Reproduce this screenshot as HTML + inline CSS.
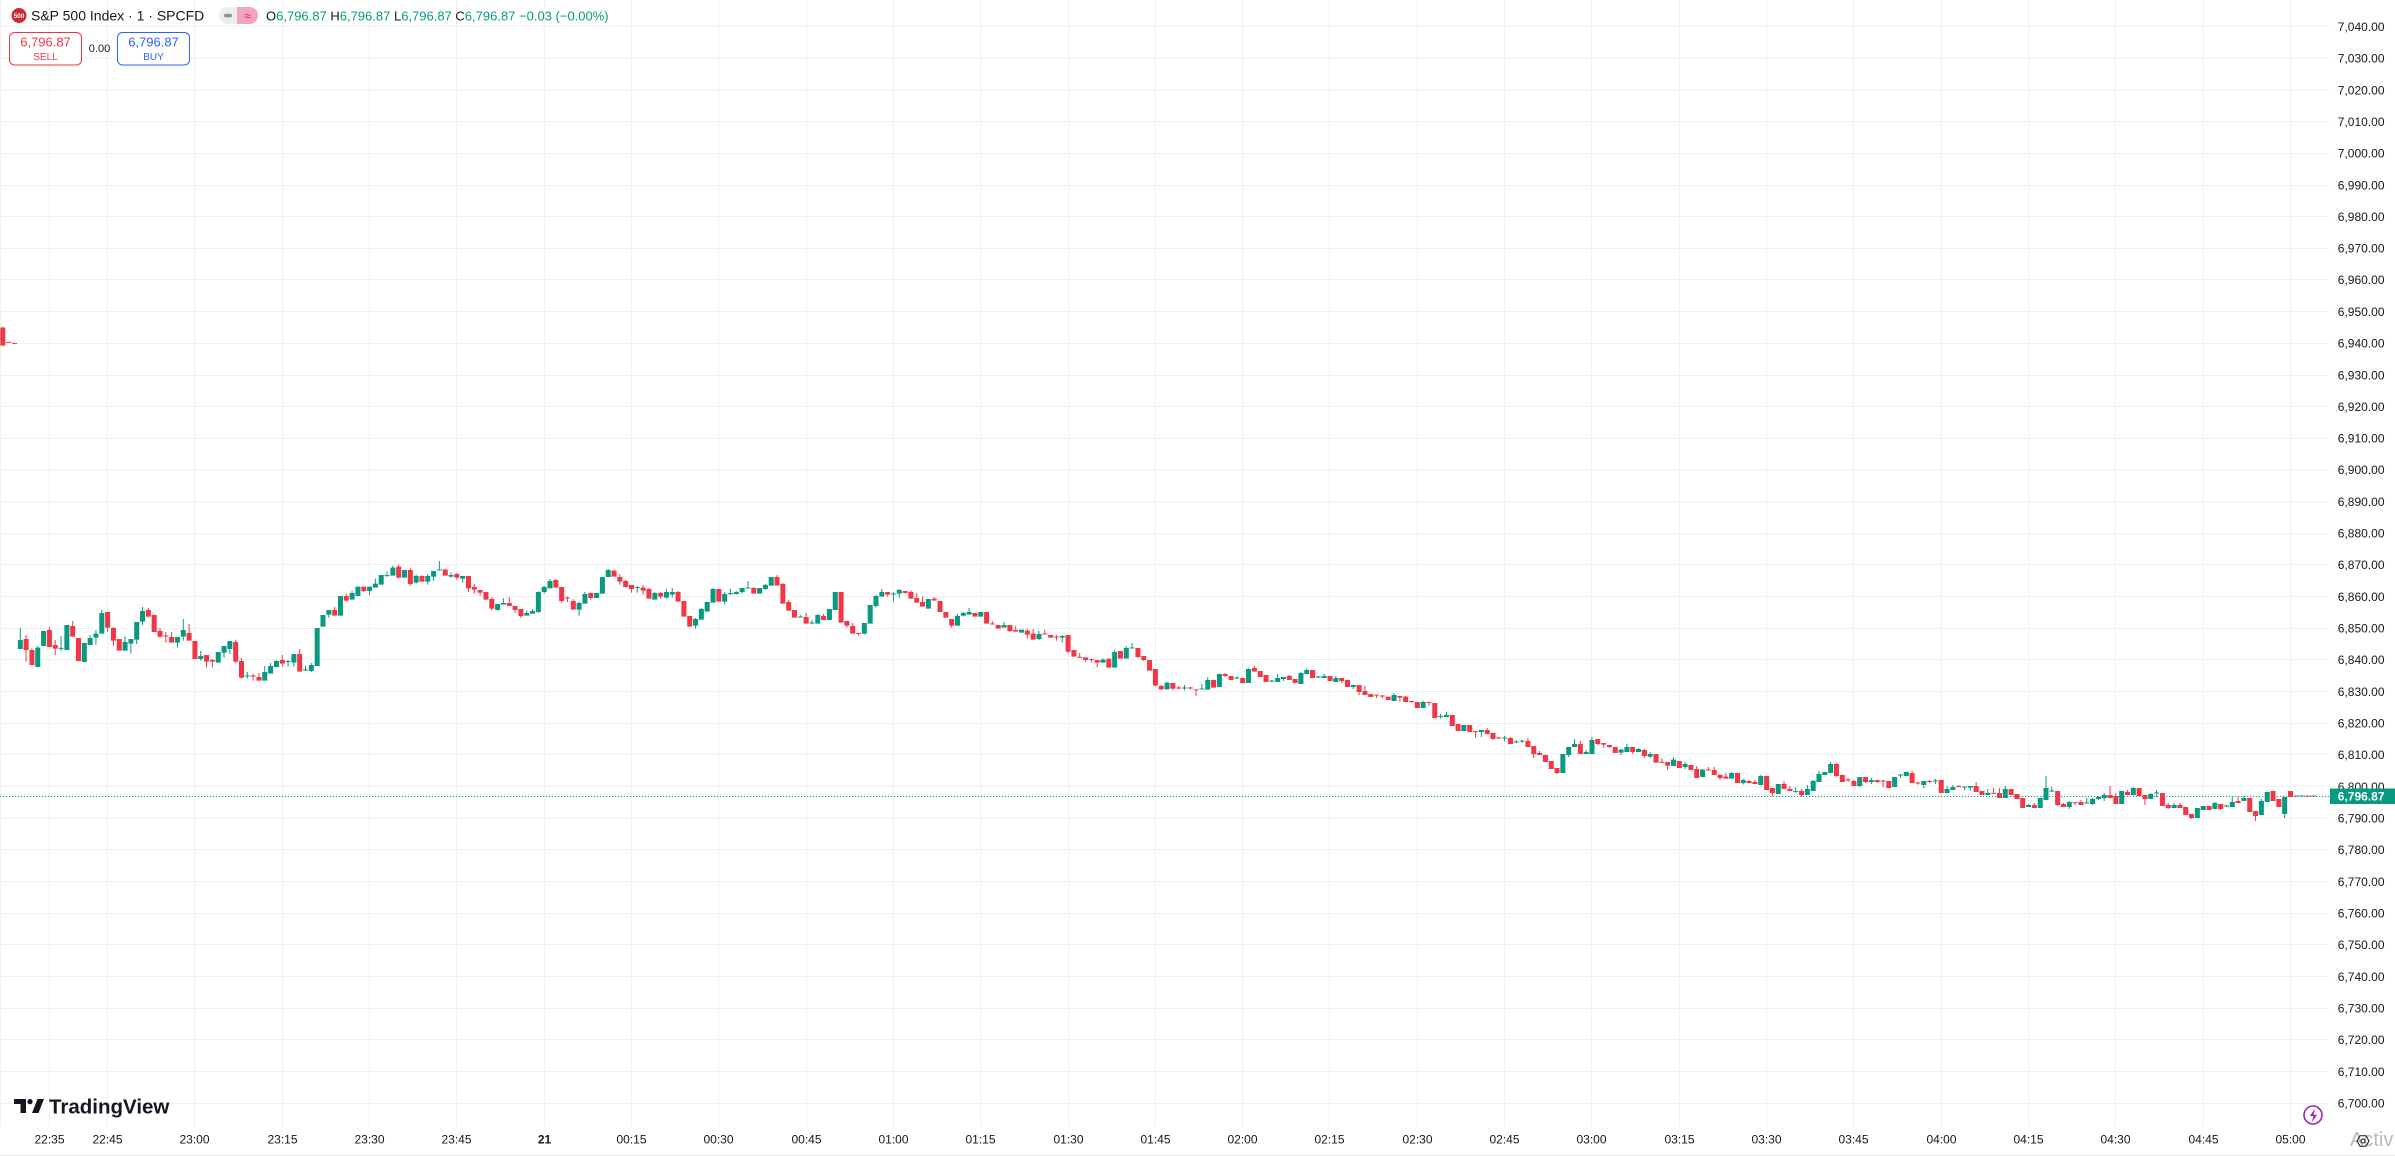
<!DOCTYPE html>
<html><head><meta charset="utf-8"><style>
html,body{margin:0;padding:0;background:#fff;overflow:hidden;width:2395px;height:1156px}
svg{display:block;font-family:"Liberation Sans",Arial,sans-serif}
</style></head><body>
<svg width="2395" height="1156" viewBox="0 0 2395 1156" xmlns="http://www.w3.org/2000/svg">
<rect width="2395" height="1156" fill="#fff"/>
<!-- grid -->
<path stroke="#eff1f5" stroke-width="1" fill="none" d="M0 26.5H2330M0 58.5H2330M0 90.5H2330M0 121.5H2330M0 153.5H2330M0 185.5H2330M0 216.5H2330M0 248.5H2330M0 279.5H2330M0 311.5H2330M0 343.5H2330M0 375.5H2330M0 406.5H2330M0 438.5H2330M0 469.5H2330M0 501.5H2330M0 533.5H2330M0 564.5H2330M0 596.5H2330M0 628.5H2330M0 659.5H2330M0 691.5H2330M0 723.5H2330M0 754.5H2330M0 786.5H2330M0 818.5H2330M0 849.5H2330M0 881.5H2330M0 913.5H2330M0 944.5H2330M0 976.5H2330M0 1008.5H2330M0 1039.5H2330M0 1071.5H2330M0 1103.5H2330
M0.5 0V1127M49.5 0V1127M107.5 0V1127M194.5 0V1127M282.5 0V1127M369.5 0V1127M456.5 0V1127M544.5 0V1127M631.5 0V1127M718.5 0V1127M806.5 0V1127M893.5 0V1127M980.5 0V1127M1068.5 0V1127M1155.5 0V1127M1242.5 0V1127M1329.5 0V1127M1417.5 0V1127M1504.5 0V1127M1591.5 0V1127M1679.5 0V1127M1766.5 0V1127M1853.5 0V1127M1941.5 0V1127M2028.5 0V1127M2115.5 0V1127M2203.5 0V1127M2290.5 0V1127"/>
<path stroke="#e6e8ec" d="M0 1155.5H2395"/>
<!-- current price dotted line -->
<path stroke="#089981" stroke-width="1" stroke-dasharray="1.2 1.8" d="M0 796.5H2330"/>
<!-- candles -->
<g transform="translate(17.8 0) scale(5.821 1)">
<g transform="translate(0 300) scale(1 .333333)">
<path fill="#f23645" d="M-3 0V83h.34V80h.17V83h.35V137h-.86zm1 0V125.5h.86V128.5h-.86zm1 0V128.5h.86V131.5h-.86zm2 0V1017h.34V1005h.17V1017h.35V1050h-.35V1085h-.17V1050h-.34zm1 0V1050h.34V1045h.17V1050h.35V1095h-.86zm3 0V990h.34V982h.17V990h.35V1041h-.86zm1 0V1035h.34V1020h.17V1035h.35V1046h-.35V1065h-.17V1046h-.34zm3 0V978h.34V963h.17V978h.35V1010h-.86zm1 0V1014h.86V1083h-.86zm5 0V936h.86V983h-.35V995h-.17V983h-.34zm1 0V984h.34V981h.17V984h.35V1022h-.35V1037h-.17V1022h-.34zm1 0V1017h.86V1052h-.86zm5 0V930h.34V924h.17V930h.35V950h-.35V953h-.17V950h-.34zm1 0V945h.86V996h-.86zm1 0V993h.34V984h.17V993h.35V1010h-.35V1014h-.17V1010h-.34zm1 0V1006.5h.34V996h.17V1006.5h.35V1009.5h-.35V1028h-.17V1009.5h-.34zm1 0V1011h.34V996h.17V1011h.35V1028h-.86zm3 0V999h.34V972h.17V999h.35V1022h-.86zm1 0V1023h.86V1077h-.86zm2 0V1065h.86V1085h-.35V1103h-.17V1085h-.34zm1 0V1080h.34V1077h.17V1080h.35V1085h-.35V1103h-.17V1085h-.34zm4 0V1026h.34V1020h.17V1026h.35V1085h-.35V1090h-.17V1085h-.34zm1 0V1083h.34V1074h.17V1083h.35V1133h-.35V1136h-.17V1133h-.34zm2 0V1126.5h.34V1122h.17V1126.5h.35V1129.5h-.35V1142h-.17V1129.5h-.34zm1 0V1131h.34V1119h.17V1131h.35V1142h-.86zm4 0V1080h.34V1065h.17V1080h.35V1091h-.35V1100h-.17V1091h-.34zm3 0V1062h.34V1047h.17V1062h.35V1115h-.86zm6 0V930h.34V921h.17V930h.35V947h-.86zm2 0V888h.34V882h.17V888h.35V902h-.35V905h-.17V902h-.34zm3 0V860h.86V873h-.35V876h-.17V873h-.34zm6 0V800h.34V794h.17V800h.35V833h-.35V836h-.17V833h-.34z"/>
<path fill="#089981" d="M0 0V1020h.34V984h.17V1020h.35V1047h-.86zm3 0V1043h.34V1038h.17V1043h.35V1101h-.86zm1 0V993h.86V1038h-.86zm3 0V1043.5h.34V1008h.17V1043.5h.35V1046.5h-.35V1053h-.17V1046.5h-.34zm1 0V975h.86V1050h-.86zm3 0V1029h.86V1086h-.86zm1 0V1014h.34V1005h.17V1014h.35V1035h-.86zm1 0V1001h.34V990h.17V1001h.35V1013h-.35V1034h-.17V1013h-.34zm1 0V939h.34V930h.17V939h.35V1001h-.86zm4 0V1026h.34V1008h.17V1026h.35V1052h-.86zm1 0V1017h.86V1031h-.35V1061h-.17V1031h-.34zm1 0V966h.86V1019h-.35V1032h-.17V1019h-.34zm1 0V933h.34V921h.17V933h.35V965h-.35V975h-.17V965h-.34zm6 0V1011h.86V1028h-.35V1043h-.17V1028h-.34zm1 0V990h.34V957h.17V990h.35V1010h-.35V1022h-.17V1010h-.34zm3 0V1068h.34V1053h.17V1068h.35V1077h-.35V1082h-.17V1077h-.34zm3 0V1056h.86V1088h-.86zm1 0V1038h.86V1058h-.35V1073h-.17V1058h-.34zm1 0V1023h.86V1047h-.35V1062h-.17V1047h-.34zm3 0V1126.5h.34V1116h.17V1126.5h.35V1129.5h-.35V1136h-.17V1129.5h-.34zm3 0V1116h.34V1098h.17V1116h.35V1142h-.86zm1 0V1098h.34V1089h.17V1098h.35V1121h-.86zm1 0V1083h.34V1080h.17V1083h.35V1101h-.86zm2 0V1083.5h.34V1080h.17V1083.5h.35V1086.5h-.35V1100h-.17V1086.5h-.34zm1 0V1062h.86V1088h-.35V1100h-.17V1088h-.34zm2 0V1108.5h.34V1098h.17V1108.5h.35V1111.5h-.35V1113h-.17V1111.5h-.34zm1 0V1095h.34V1089h.17V1095h.35V1113h-.35V1116h-.17V1113h-.34zm1 0V984h.86V1098h-.86zm1 0V945h.86V980h-.86zm1 0V930h.86V944h-.35V953h-.17V944h-.34zm2 0V888h.86V947h-.86zm2 0V879h.34V873h.17V879h.35V899h-.86zm1 0V860h.86V888h-.86zm2 0V860h.86V873h-.35V885h-.17V873h-.34zm1 0V851h.34V836h.17V851h.35V863h-.86zm1 0V825h.86V854h-.86zm1 0V825.5h.34V815h.17V825.5h.35V828.5h-.35V830h-.17V828.5h-.34zm1 0V803h.34V797h.17V803h.35V827h-.86z"/>
</g>
<g transform="translate(0 545) scale(1 .333333)">
<path fill="#f23645" d="M67 0V75h.34V70h.17V75h.35V117h-.35V122h-.17V117h-.34zm2 0V93h.34V90h.17V93h.35V110h-.86zm4 0V74h.34V71h.17V74h.35V92h-.86zm2 0V87h.34V84h.17V87h.35V98h-.35V104h-.17V98h-.34zm2 0V93h.86V130h-.35V141h-.17V130h-.34zm1 0V126h.34V117h.17V126h.35V134h-.35V146h-.17V134h-.34zm1 0V135h.86V143h-.35V152h-.17V143h-.34zm1 0V141h.86V164h-.86zm1 0V162h.34V157h.17V162h.35V191h-.35V197h-.17V191h-.34zm3 0V174h.34V156h.17V174h.35V183h-.86zm1 0V183h.86V195h-.35V204h-.17V195h-.34zm1 0V192h.86V213h-.35V219h-.17V213h-.34zm6 0V105h.34V102h.17V105h.35V128h-.86zm1 0V126h.86V168h-.35V174h-.17V168h-.34zm1 0V157.5h.34V155h.17V157.5h.35V160.5h-.35V171h-.17V160.5h-.34zm1 0V168h.34V162h.17V168h.35V194h-.86zm3 0V144h.86V159h-.35V164h-.17V159h-.34zm4 0V77h.34V74h.17V77h.35V95h-.86zm1 0V96h.34V87h.17V96h.35V110h-.35V119h-.17V110h-.34zm1 0V108h.34V105h.17V108h.35V126h-.35V128h-.17V126h-.34zm1 0V120h.86V132h-.35V143h-.17V132h-.34zm2 0V128h.34V120h.17V128h.35V137h-.35V149h-.17V137h-.34zm1 0V132h.34V129h.17V132h.35V161h-.86zm2 0V144h.34V141h.17V144h.35V155h-.35V161h-.17V155h-.34zm3 0V141h.34V138h.17V141h.35V170h-.86zm1 0V168h.86V215h-.86zm1 0V213h.86V245h-.86zm5 0V132h.86V170h-.86zm6 0V129h.34V126h.17V129h.35V146h-.86zm4 0V96h.34V90h.17V96h.35V122h-.86zm1 0V117h.34V114h.17V117h.35V176h-.86zm1 0V171h.34V165h.17V171h.35V197h-.86zm1 0V195h.86V218h-.86z"/>
<path fill="#089981" d="M66 0V75h.86V98h-.86zm2 0V93h.34V88h.17V93h.35V113h-.35V116h-.17V113h-.34zm2 0V93h.34V87h.17V93h.35V110h-.35V119h-.17V110h-.34zm1 0V78h.86V95h-.35V107h-.17V95h-.34zm1 0V73.5h.34V48h.17V73.5h.35V76.5h-.86zm2 0V90h.34V82h.17V90h.35V95h-.35V98h-.17V95h-.34zm2 0V93h.86V101h-.35V113h-.17V101h-.34zm6 0V177h.86V195h-.35V197h-.17V195h-.34zm1 0V174h.34V159h.17V174h.35V179h-.86zm4 0V204h.34V197h.17V204h.35V212h-.86zm1 0V198h.34V192h.17V198h.35V206h-.86zm1 0V141h.34V139h.17V141h.35V201h-.35V204h-.17V201h-.34zm1 0V126h.34V123h.17V126h.35V141h-.35V146h-.17V141h-.34zm1 0V108h.34V102h.17V108h.35V130h-.86zm5 0V174h.34V170h.17V174h.35V194h-.35V212h-.17V194h-.34zm1 0V147h.34V141h.17V147h.35V176h-.86zm2 0V144h.86V159h-.86zm1 0V96h.86V146h-.86zm1 0V75h.34V72h.17V75h.35V96h-.86zm5 0V126.5h.34V123h.17V126.5h.35V129.5h-.35V143h-.17V129.5h-.34zm3 0V144h.34V141h.17V144h.35V164h-.86zm2 0V141h.34V132h.17V141h.35V158h-.35V161h-.17V158h-.34zm1 0V141h.34V129h.17V141h.35V149h-.35V158h-.17V149h-.34zm4 0V222h.34V219h.17V222h.35V242h-.35V251h-.17V242h-.34zm1 0V192h.34V189h.17V192h.35V224h-.86zm1 0V171h.86V200h-.86zm1 0V132h.34V129h.17V132h.35V173h-.86zm2 0V147h.34V141h.17V147h.35V170h-.35V179h-.17V170h-.34zm1 0V144.5h.34V132h.17V144.5h.35V147.5h-.35V150h-.17V147.5h-.34zm1 0V141h.34V138h.17V141h.35V147h-.35V149h-.17V147h-.34zm1 0V129h.86V141h-.35V146h-.17V141h-.34zm1 0V127.5h.34V108h.17V127.5h.35V130.5h-.86zm2 0V129h.86V146h-.86zm1 0V120h.34V117h.17V120h.35V132h-.35V135h-.17V132h-.34zm1 0V96h.86V122h-.86zm5 0V214.5h.34V210h.17V214.5h.35V217.5h-.86z"/>
</g>
<g transform="translate(0 570) scale(1 .333333)">
<path fill="#f23645" d="M135 0V141h.34V129h.17V141h.35V161h-.86zm3 0V138h.34V132h.17V138h.35V150h-.86zm3 0V66h.86V158h-.86zm1 0V153h.86V167h-.35V173h-.17V167h-.34zm1 0V168h.34V159h.17V168h.35V191h-.86zm1 0V188.5h.86V191.5h-.35V197h-.17V191.5h-.34zm5 0V66h.86V74h-.35V80h-.17V74h-.34zm3 0V63h.86V69h-.35V71h-.17V69h-.34zm1 0V66h.34V61h.17V66h.35V86h-.86zm1 0V84h.34V69h.17V84h.35V98h-.86zm1 0V96h.34V80h.17V96h.35V110h-.86zm2 0V86h.34V81h.17V86h.35V92h-.86zm1 0V93h.86V126h-.86zm1 0V126h.86V143h-.86zm1 0V147h.86V167h-.35V173h-.17V167h-.34zm4 0V129h.86V140h-.86zm2 0V126h.86V161h-.86zm1 0V160.5h.34V153h.17V160.5h.35V163.5h-.86zm1 0V165h.86V176h-.86zm2 0V165h.86V183h-.35V186h-.17V183h-.34zm1 0V180h.34V168h.17V180h.35V185h-.86zm2 0V182h.34V177h.17V182h.35V194h-.35V206h-.17V194h-.34zm1 0V191h.34V177h.17V191h.35V209h-.86zm2 0V190.5h.34V179h.17V190.5h.35V193.5h-.86zm1 0V195h.86V203h-.86zm1 0V199.5h.34V195h.17V199.5h.35V202.5h-.35V212h-.17V202.5h-.34zm2 0V195h.86V245h-.35V250h-.17V245h-.34zm1 0V240h.86V260h-.86zm1 0V260.5h.34V249h.17V260.5h.35V263.5h-.86zm1 0V262h.86V270h-.35V275h-.17V270h-.34zm1 0V267.5h.34V265h.17V267.5h.35V270.5h-.35V278h-.17V270.5h-.34zm1 0V270h.86V278h-.35V291h-.17V278h-.34zm2 0V266h.86V293h-.86zm2 0V243h.86V266h-.86zm3 0V234h.86V261h-.35V263h-.17V261h-.34zm1 0V258h.86V270h-.35V273h-.17V270h-.34zm1 0V270h.86V302h-.86zm1 0V297h.86V347h-.86zm1 0V348h.34V345h.17V348h.35V358h-.35V360h-.17V358h-.34zm2 0V339h.86V356h-.35V362h-.17V356h-.34zm1 0V352.5h.34V348h.17V352.5h.35V355.5h-.35V358h-.17V355.5h-.34zm2 0V352.5h.34V350h.17V352.5h.35V355.5h-.35V358h-.17V355.5h-.34zm1 0V358h.86V361h-.35V377h-.17V361h-.34z"/>
<path fill="#089981" d="M136 0V157.5h.34V150h.17V157.5h.35V160.5h-.35V163h-.17V160.5h-.34zm1 0V135h.34V132h.17V135h.35V161h-.86zm2 0V117h.86V150h-.86zm1 0V66h.86V120h-.86zm5 0V159h.86V191h-.35V194h-.17V191h-.34zm1 0V105h.86V161h-.86zm1 0V78h.34V75h.17V78h.35V108h-.35V113h-.17V108h-.34zm1 0V66h.34V57h.17V66h.35V80h-.86zm2 0V70.5h.34V66h.17V70.5h.35V73.5h-.35V95h-.17V73.5h-.34zm1 0V60h.34V57h.17V60h.35V71h-.35V83h-.17V71h-.34zm5 0V87h.86V116h-.86zm5 0V138h.34V132h.17V138h.35V167h-.86zm1 0V129h.34V126h.17V129h.35V137h-.35V140h-.17V137h-.34zm1 0V126h.34V114h.17V126h.35V134h-.86zm2 0V126h.86V140h-.86zm4 0V165h.34V156h.17V165h.35V173h-.86zm3 0V179h.86V188h-.86zm3 0V192h.34V183h.17V192h.35V207h-.35V210h-.17V207h-.34zm4 0V198h.34V195h.17V198h.35V203h-.35V218h-.17V203h-.34zm7 0V269h.34V265h.17V269h.35V278h-.86zm2 0V246h.34V240h.17V246h.35V293h-.86zm2 0V234h.34V229h.17V234h.35V266h-.86zm1 0V232.5h.34V219h.17V232.5h.35V235.5h-.86zm6 0V338h.34V336h.17V338h.35V358h-.86zm3 0V352.5h.34V345h.17V352.5h.35V355.5h-.35V361h-.17V355.5h-.34zm3 0V355.5h.34V342h.17V355.5h.35V358.5h-.86z"/>
</g>
<g transform="translate(0 655) scale(1 .333333)">
<path fill="#f23645" d="M205 0V75h.86V98h-.86zm2 0V57h.34V54h.17V57h.35V63h-.35V66h-.17V63h-.34zm1 0V63h.86V75h-.86zm2 0V69h.86V84h-.86zm2 0V39h.34V33h.17V39h.35V50h-.86zm1 0V48h.86V66h-.86zm1 0V60h.86V81h-.86zm4 0V63h.34V60h.17V63h.35V75h-.86zm1 0V72h.86V84h-.86zm3 0V45h.86V69h-.86zm3 0V63h.86V78h-.86zm2 0V69h.86V78h-.35V84h-.17V78h-.34zm1 0V75h.86V96h-.86zm2 0V90h.86V111h-.35V120h-.17V111h-.34zm1 0V108h.34V93h.17V108h.35V120h-.86zm1 0V117h.86V126h-.86zm1 0V119h.86V122h-.35V129h-.17V122h-.34zm1 0V121.5h.34V120h.17V121.5h.35V124.5h-.35V131h-.17V124.5h-.34zm1 0V125h.86V135h-.86zm2 0V123h.86V128h-.35V140h-.17V128h-.34zm1 0V125h.34V123h.17V125h.35V141h-.86zm1 0V138.5h.34V138h.17V138.5h.35V141.5h-.35V143h-.17V141.5h-.34zm1 0V141h.86V159h-.86zm2 0V140.5h.86V143.5h-.35V152h-.17V143.5h-.34zm1 0V144h.86V189h-.86zm3 0V180h.86V213h-.86zm1 0V207h.86V228h-.86zm2 0V210h.86V231h-.86zm1 0V228h.86V231h-.35V248h-.17V231h-.34zm2 0V225h.34V219h.17V225h.35V237h-.86zm1 0V234h.86V252h-.35V255h-.17V252h-.34zm1 0V247.5h.34V246h.17V247.5h.35V250.5h-.35V252h-.17V250.5h-.34zm2 0V249h.34V246h.17V249h.35V267h-.86zm3 0V258h.34V249h.17V258h.35V276h-.86zm1 0V273h.86V297h-.35V309h-.17V297h-.34zm1 0V294h.34V288h.17V294h.35V300h-.86zm1 0V300h.86V321h-.86zm1 0V318h.86V342h-.86zm1 0V339h.86V354h-.35V357h-.17V354h-.34zm4 0V267h.34V258h.17V267h.35V297h-.86zm3 0V252h.86V267h-.35V270h-.17V267h-.34z"/>
<path fill="#089981" d="M204 0V75h.34V66h.17V75h.35V104h-.86zm2 0V57h.86V96h-.86zm3 0V67.5h.34V63h.17V67.5h.35V70.5h-.35V72h-.17V70.5h-.34zm2 0V42h.34V40h.17V42h.35V84h-.86zm4 0V76.5h.34V75h.17V76.5h.35V79.5h-.35V81h-.17V79.5h-.34zm1 0V69h.34V57h.17V69h.35V81h-.86zm1 0V66h.86V72h-.35V78h-.17V72h-.34zm3 0V54h.34V51h.17V54h.35V87h-.86zm1 0V45h.34V42h.17V45h.35V57h-.86zm2 0V64.5h.34V63h.17V64.5h.35V67.5h-.35V69h-.17V67.5h-.34zm1 0V63h.34V57h.17V63h.35V69h-.86zm2 0V69h.34V63h.17V69h.35V81h-.86zm3 0V90h.86V96h-.35V102h-.17V96h-.34zm7 0V120h.34V114h.17V120h.35V138h-.86zm5 0V141h.34V138h.17V141h.35V159h-.86zm3 0V182.5h.34V177h.17V182.5h.35V185.5h-.35V191h-.17V185.5h-.34zm1 0V180h.34V171h.17V180h.35V186h-.86zm3 0V210h.86V228h-.86zm3 0V225h.86V231h-.35V246h-.17V231h-.34zm4 0V247.5h.34V243h.17V247.5h.35V250.5h-.35V259h-.17V250.5h-.34zm2 0V259.5h.34V255h.17V259.5h.35V262.5h-.35V264h-.17V262.5h-.34zm1 0V256.5h.34V255h.17V256.5h.35V259.5h-.35V264h-.17V259.5h-.34zm7 0V297h.86V354h-.86zm1 0V276h.86V300h-.35V306h-.17V300h-.34zm1 0V267h.34V252h.17V267h.35V276h-.86zm2 0V291h.34V285h.17V291h.35V297h-.86zm1 0V255h.34V246h.17V255h.35V297h-.86z"/>
</g>
<g transform="translate(0 725) scale(1 .333333)">
<path fill="#f23645" d="M272 0V54h.86V59h-.35V68h-.17V59h-.34zm1 0V60h.86V66h-.35V69h-.17V66h-.34zm1 0V66h.86V84h-.86zm3 0V66h.86V81h-.35V87h-.17V81h-.34zm2 0V75h.34V72h.17V75h.35V93h-.35V99h-.17V93h-.34zm2 0V87h.86V113h-.86zm1 0V110.5h.34V99h.17V110.5h.35V113.5h-.86zm1 0V111h.86V122h-.35V135h-.17V122h-.34zm2 0V108h.86V129h-.86zm2 0V120h.86V135h-.86zm1 0V132h.34V123h.17V132h.35V159h-.86zm2 0V133.5h.34V126h.17V133.5h.35V136.5h-.86zm1 0V135h.34V126h.17V135h.35V150h-.86zm1 0V150h.34V147h.17V150h.35V159h-.35V165h-.17V159h-.34zm1 0V155h.34V144h.17V155h.35V161h-.86zm2 0V144h.86V174h-.86zm2 0V168h.34V165h.17V168h.35V174h-.86zm1 0V171h.34V165h.17V171h.35V177h-.86zm2 0V153h.86V195h-.86zm1 0V189h.86V204h-.35V214h-.17V204h-.34zm2 0V177h.34V168h.17V177h.35V192h-.86zm1 0V192h.34V183h.17V192h.35V198h-.86zm2 0V198h.34V192h.17V198h.35V210h-.35V214h-.17V210h-.34zm6 0V117h.34V114h.17V117h.35V153h-.35V156h-.17V153h-.34zm1 0V150h.86V171h-.86zm1 0V163.5h.34V159h.17V163.5h.35V166.5h-.35V171h-.17V166.5h-.34zm1 0V168h.34V165h.17V168h.35V183h-.86zm2 0V156h.86V171h-.35V174h-.17V171h-.34zm2 0V165h.86V171h-.35V174h-.17V171h-.34zm1 0V166.5h.34V165h.17V166.5h.35V169.5h-.35V186h-.17V169.5h-.34zm1 0V168h.86V189h-.86zm4 0V144h.34V138h.17V144h.35V174h-.86zm1 0V172.5h.34V171h.17V172.5h.35V175.5h-.35V179h-.17V175.5h-.34zm2 0V168h.34V165h.17V168h.35V171h-.35V174h-.17V171h-.34zm2 0V165h.86V204h-.86zm3 0V183h.34V180h.17V183h.35V186h-.86zm3 0V183h.34V171h.17V183h.35V201h-.86zm1 0V198h.86V210h-.86zm2 0V203.5h.34V189h.17V203.5h.35V206.5h-.86zm1 0V204h.34V189h.17V204h.35V219h-.86z"/>
<path fill="#089981" d="M275 0V74h.34V72h.17V74h.35V83h-.35V90h-.17V83h-.34zm1 0V66h.34V57h.17V66h.35V81h-.86zm2 0V72h.34V69h.17V72h.35V81h-.86zm2 0V87h.34V81h.17V87h.35V95h-.35V99h-.17V95h-.34zm4 0V104h.34V96h.17V104h.35V123h-.86zm2 0V117h.34V111h.17V117h.35V126h-.35V132h-.17V126h-.34zm3 0V134h.34V132h.17V134h.35V156h-.86zm5 0V144h.34V141h.17V144h.35V161h-.86zm2 0V165h.34V162h.17V165h.35V174h-.35V178h-.17V174h-.34zm3 0V153h.34V150h.17V153h.35V180h-.86zm3 0V177h.86V207h-.86zm3 0V198.5h.34V186h.17V198.5h.35V201.5h-.35V203h-.17V201.5h-.34zm2 0V192h.34V180h.17V192h.35V210h-.86zm1 0V168h.34V165h.17V168h.35V198h-.86zm1 0V147h.34V138h.17V147h.35V171h-.86zm1 0V141h.86V150h-.86zm1 0V117h.34V111h.17V117h.35V144h-.86zm5 0V156h.86V183h-.35V186h-.17V183h-.34zm2 0V165h.34V159h.17V165h.35V171h-.35V177h-.17V171h-.34zm4 0V156h.86V186h-.86zm1 0V148.5h.34V147h.17V148.5h.35V151.5h-.35V159h-.17V151.5h-.34zm1 0V141h.86V153h-.86zm3 0V168h.86V180h-.35V189h-.17V180h-.34zm2 0V166.5h.34V162h.17V166.5h.35V169.5h-.35V177h-.17V169.5h-.34zm2 0V192h.34V183h.17V192h.35V204h-.86zm1 0V186h.34V180h.17V186h.35V195h-.86zm2 0V184.5h.86V187.5h-.35V195h-.17V187.5h-.34zm1 0V183h.86V188h-.35V197h-.17V188h-.34zm3 0V204h.34V192h.17V204h.35V210h-.86z"/>
</g>
<g transform="translate(0 760) scale(1 .333333)">
<path fill="#f23645" d="M342 0V87h.86V105h-.86zm1 0V102h.86V117h-.86zm1 0V114h.86V144h-.86zm2 0V135h.34V129h.17V135h.35V144h-.86zm4 0V93h.86V135h-.35V138h-.17V135h-.34zm1 0V132h.34V129h.17V132h.35V141h-.86zm2 0V126.5h.86V129.5h-.35V135h-.17V129.5h-.34zm1 0V126h.34V120h.17V126h.35V135h-.86zm5 0V105h.34V78h.17V105h.35V114h-.86zm1 0V108h.34V99h.17V108h.35V132h-.86zm2 0V96h.34V90h.17V96h.35V105h-.86zm2 0V84h.86V108h-.86zm1 0V105h.86V117h-.35V135h-.17V117h-.34zm3 0V99h.86V138h-.86zm1 0V135h.34V129h.17V135h.35V144h-.35V147h-.17V144h-.34zm2 0V135h.34V129h.17V135h.35V144h-.86zm1 0V141h.86V165h-.86zm1 0V162h.86V174h-.35V177h-.17V174h-.34zm3 0V138h.86V150h-.86zm2 0V132h.86V147h-.35V150h-.17V147h-.34zm3 0V123h.34V111h.17V123h.35V129h-.86zm2 0V114h.86V156h-.86zm1 0V153h.86V168h-.35V183h-.17V168h-.34zm3 0V93h.86V123h-.86zm1 0V117h.86V141h-.86zm2 0V93h.86V111h-.86zm3 0V106.5h.86V109.5h-.86z"/>
<path fill="#089981" d="M341 0V87h.34V78h.17V87h.35V114h-.86zm4 0V135h.34V132h.17V135h.35V141h-.86zm2 0V114h.86V144h-.86zm1 0V84h.34V48h.17V84h.35V120h-.86zm1 0V91.5h.34V81h.17V91.5h.35V94.5h-.35V96h-.17V94.5h-.34zm3 0V126h.34V123h.17V126h.35V141h-.35V147h-.17V141h-.34zm3 0V127.5h.34V114h.17V127.5h.35V130.5h-.86zm1 0V117h.34V114h.17V117h.35V132h-.35V135h-.17V132h-.34zm1 0V111h.34V108h.17V111h.35V117h-.35V120h-.17V117h-.34zm1 0V105h.34V99h.17V105h.35V114h-.35V123h-.17V114h-.34zm3 0V93h.86V132h-.86zm2 0V84h.34V81h.17V84h.35V105h-.86zm3 0V102h.34V99h.17V102h.35V117h-.86zm1 0V97.5h.34V90h.17V97.5h.35V100.5h-.35V111h-.17V100.5h-.34zm3 0V135h.34V129h.17V135h.35V144h-.86zm4 0V144h.86V174h-.86zm1 0V138h.86V150h-.86zm2 0V129h.34V126h.17V129h.35V147h-.86zm2 0V136.5h.34V135h.17V136.5h.35V139.5h-.35V141h-.17V139.5h-.34zm1 0V126h.34V111h.17V126h.35V141h-.86zm2 0V114h.34V108h.17V114h.35V123h-.86zm3 0V123h.34V117h.17V123h.35V165h-.86zm1 0V96h.86V126h-.86zm3 0V111h.86V162h-.35V174h-.17V162h-.34zm2 0V106.5h.86V109.5h-.86zm1 0V106.5h.86V109.5h-.86zm2 0V106.5h.86V109.5h-.86z"/>
</g>
</g>
<!-- price axis labels -->
<g font-size="12" fill="#131722" text-anchor="end">
<text x="2384.5" y="30.9">7,040.00</text><text x="2384.5" y="62.6">7,030.00</text><text x="2384.5" y="94.3">7,020.00</text><text x="2384.5" y="125.9">7,010.00</text><text x="2384.5" y="157.6">7,000.00</text><text x="2384.5" y="189.3">6,990.00</text><text x="2384.5" y="220.9">6,980.00</text><text x="2384.5" y="252.6">6,970.00</text><text x="2384.5" y="284.2">6,960.00</text><text x="2384.5" y="315.9">6,950.00</text><text x="2384.5" y="347.6">6,940.00</text><text x="2384.5" y="379.3">6,930.00</text><text x="2384.5" y="410.9">6,920.00</text><text x="2384.5" y="442.6">6,910.00</text><text x="2384.5" y="474.2">6,900.00</text><text x="2384.5" y="505.9">6,890.00</text><text x="2384.5" y="537.6">6,880.00</text><text x="2384.5" y="569.2">6,870.00</text><text x="2384.5" y="600.9">6,860.00</text><text x="2384.5" y="632.6">6,850.00</text><text x="2384.5" y="664.2">6,840.00</text><text x="2384.5" y="695.9">6,830.00</text><text x="2384.5" y="727.6">6,820.00</text><text x="2384.5" y="759.2">6,810.00</text><text x="2384.5" y="790.9">6,800.00</text><text x="2384.5" y="822.6">6,790.00</text><text x="2384.5" y="854.2">6,780.00</text><text x="2384.5" y="885.9">6,770.00</text><text x="2384.5" y="917.5">6,760.00</text><text x="2384.5" y="949.2">6,750.00</text><text x="2384.5" y="980.9">6,740.00</text><text x="2384.5" y="1012.5">6,730.00</text><text x="2384.5" y="1044.2">6,720.00</text><text x="2384.5" y="1075.9">6,710.00</text><text x="2384.5" y="1107.5">6,700.00</text>
</g>
<rect x="2330" y="788.5" width="65" height="15.5" fill="#089981"/>
<text x="2384.5" y="800.6" font-size="12" fill="#fff" text-anchor="end" font-weight="bold">6,796.87</text>
<!-- time axis labels -->
<g font-size="12" fill="#131722" text-anchor="middle">
<text x="49.5" y="1143.5">22:35</text><text x="107.5" y="1143.5">22:45</text><text x="194.5" y="1143.5">23:00</text><text x="282.5" y="1143.5">23:15</text><text x="369.5" y="1143.5">23:30</text><text x="456.5" y="1143.5">23:45</text><text x="544.5" y="1143.5" font-weight="bold">21</text><text x="631.5" y="1143.5">00:15</text><text x="718.5" y="1143.5">00:30</text><text x="806.5" y="1143.5">00:45</text><text x="893.5" y="1143.5">01:00</text><text x="980.5" y="1143.5">01:15</text><text x="1068.5" y="1143.5">01:30</text><text x="1155.5" y="1143.5">01:45</text><text x="1242.5" y="1143.5">02:00</text><text x="1329.5" y="1143.5">02:15</text><text x="1417.5" y="1143.5">02:30</text><text x="1504.5" y="1143.5">02:45</text><text x="1591.5" y="1143.5">03:00</text><text x="1679.5" y="1143.5">03:15</text><text x="1766.5" y="1143.5">03:30</text><text x="1853.5" y="1143.5">03:45</text><text x="1941.5" y="1143.5">04:00</text><text x="2028.5" y="1143.5">04:15</text><text x="2115.5" y="1143.5">04:30</text><text x="2203.5" y="1143.5">04:45</text><text x="2290.5" y="1143.5">05:00</text>
</g>
<!-- watermark / corner -->
<text x="2350" y="1146" font-size="20" fill="#b9b9b9">Activ</text>
<path d="M2357 1141l3-5.2h6l3 5.2-3 5.2h-6z" fill="none" stroke="#131722" stroke-width="1"/>
<circle cx="2363" cy="1141" r="2" fill="none" stroke="#131722" stroke-width="1"/>
<circle cx="2313" cy="1115" r="9" fill="none" stroke="#9c27b0" stroke-width="1.6"/>
<path d="M2315 1108.5l-5.2 7.6h3.6l-1.6 6.4 5.4-7.8h-3.6z" fill="#9c27b0"/>
<!-- TradingView logo -->
<g fill="#131722">
<path d="M14 1099h12v14h-5.5v-9H14z"/>
<circle cx="30" cy="1101.6" r="2.6"/>
<path d="M37.5 1099h6.5l-5.5 14h-6.5z"/>
<text x="49" y="1113.5" font-size="20.5" font-weight="bold">TradingView</text>
</g>
<!-- header -->
<circle cx="19" cy="15.5" r="7.5" fill="#cc2936"/>
<text x="19" y="17.8" font-size="6.5" font-weight="bold" fill="#fff" text-anchor="middle">500</text>
<text x="31" y="20.5" font-size="14" fill="#131722">S&amp;P 500 Index · 1 · SPCFD</text>
<rect x="219" y="7" width="39" height="17" rx="8.5" fill="#ebedf1"/>
<path d="M237 7h12.5a8.5 8.5 0 0 1 0 17H237z" fill="#f5a3bb"/>
<rect x="224" y="13.8" width="8" height="3.6" rx="1.8" fill="#8e919a"/>
<text x="247.5" y="20" font-size="12" fill="#d6204e" text-anchor="middle">≈</text>
<text x="266" y="20.3" font-size="13" fill="#089981"><tspan fill="#131722">O</tspan>6,796.87 <tspan fill="#131722">H</tspan>6,796.87 <tspan fill="#131722">L</tspan>6,796.87 <tspan fill="#131722">C</tspan>6,796.87 −0.03 (−0.00%)</text>
<rect x="9.5" y="32.5" width="72" height="32.5" rx="5" fill="#fff" stroke="#f23645" stroke-width="1"/>
<text x="45.5" y="46.3" font-size="13" fill="#f23645" text-anchor="middle">6,796.87</text>
<text x="45.5" y="59.8" font-size="10" fill="#f23645" text-anchor="middle">SELL</text>
<text x="99.5" y="52" font-size="11" fill="#131722" text-anchor="middle">0.00</text>
<rect x="117.5" y="32.5" width="72" height="32.5" rx="5" fill="#fff" stroke="#2962ff" stroke-width="1"/>
<text x="153.5" y="46.3" font-size="13" fill="#2962ff" text-anchor="middle">6,796.87</text>
<text x="153.5" y="59.8" font-size="10" fill="#2962ff" text-anchor="middle">BUY</text>
</svg>
</body></html>
